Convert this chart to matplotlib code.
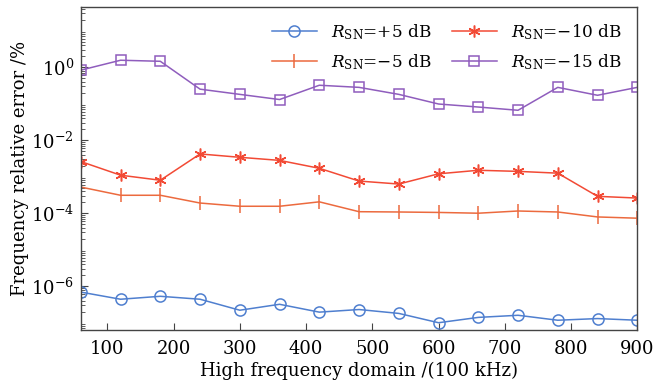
import numpy as np
import matplotlib
matplotlib.use("Agg")
import matplotlib.pyplot as plt
from matplotlib.ticker import LogLocator, NullFormatter, FixedLocator

x = [60, 120, 180, 240, 300, 360, 420, 480, 540, 600, 660, 720, 780, 840, 900]
snr_p5 = [6.9e-7, 4.4e-7, 5.3e-7, 4.4e-7, 2.2e-7, 3.2e-7, 1.95e-7, 2.3e-7, 1.8e-7, 1.0e-7, 1.4e-7, 1.6e-7, 1.17e-7, 1.3e-7, 1.17e-7]
snr_m5 = [5.2e-4, 3.1e-4, 3.1e-4, 1.9e-4, 1.55e-4, 1.55e-4, 2.05e-4, 1.1e-4, 1.08e-4, 1.05e-4, 1.0e-4, 1.15e-4, 1.08e-4, 7.9e-5, 7.3e-5]
snr_m10 = [2.6e-3, 1.1e-3, 8.0e-4, 4.2e-3, 3.4e-3, 2.8e-3, 1.7e-3, 7.6e-4, 6.3e-4, 1.2e-3, 1.5e-3, 1.4e-3, 1.25e-3, 2.9e-4, 2.6e-4]
snr_m15 = [0.83, 1.55, 1.45, 0.25, 0.18, 0.13, 0.32, 0.28, 0.18, 0.098, 0.081, 0.066, 0.28, 0.17, 0.28]
labels = [r"$R_{\mathrm{SN}}$=+5 dB", r"$R_{\mathrm{SN}}$=−5 dB",
          r"$R_{\mathrm{SN}}$=−10 dB", r"$R_{\mathrm{SN}}$=−15 dB"]
xticks = [100, 200, 300, 400, 500, 600, 700, 800, 900]

plt.rcParams['font.family'] = ['DejaVu Serif']
plt.rcParams['mathtext.fontset'] = 'dejavuserif'

fig = plt.figure(figsize=(6.68, 3.86), dpi=100)
ax = fig.add_axes([0.121, 0.145, 0.833, 0.837])

c_blue = '#4f7fcf'
c_orange = '#ec6a3e'
c_red = '#f24a35'
c_purple = '#8f5dbd'

ax.plot(x, snr_p5, color=c_blue, marker='o', mfc='none', ms=8, mew=1.1, lw=1.1, label=labels[0])
ax.plot(x, snr_m5, color=c_orange, marker='|', ms=10, mew=1.1, lw=1.1, label=labels[1])
ax.plot(x, snr_m10, color=c_red, marker=(6, 2, 0), ms=8.5, mew=1.1, lw=1.1, label=labels[2])
ax.plot(x, snr_m15, color=c_purple, marker='s', mfc='none', ms=7.5, mew=1.1, lw=1.1, label=labels[3])

ax.set_yscale('log')
ax.set_xlim(60, 900)
ax.set_ylim(10**-7.2, 10**1.65)
ax.yaxis.set_major_locator(FixedLocator([1e-6, 1e-4, 1e-2, 1e0]))
ax.yaxis.set_minor_locator(LogLocator(base=10, subs=np.arange(2, 10), numticks=20))
ax.yaxis.set_minor_formatter(NullFormatter())
ax.set_yticklabels([r"$10^{-6}$", r"$10^{-4}$", r"$10^{-2}$", r"$10^{0}$"])
ax.set_xticks(xticks)
ax.tick_params(axis='both', which='both', direction='in', labelsize=13, color='#444444')
ax.tick_params(axis='both', which='major', length=5)
ax.tick_params(axis='x', which='major', pad=7)
ax.tick_params(axis='y', which='major', pad=5)
ax.tick_params(axis='y', which='minor', length=3)
for s in ax.spines.values():
    s.set_color('#444444')
    s.set_linewidth(1.0)

ax.set_xlabel('High frequency domain /(100 kHz)', fontsize=13, labelpad=3)
ax.set_ylabel('Frequency relative error /%', fontsize=13, labelpad=1)

ax.legend(ncol=2, loc='upper right', frameon=False, fontsize=12.2,
          handlelength=2.7, columnspacing=1.2, labelspacing=0.6,
          borderaxespad=0.5, handletextpad=0.8)

fig.savefig('out.png', dpi=100)
